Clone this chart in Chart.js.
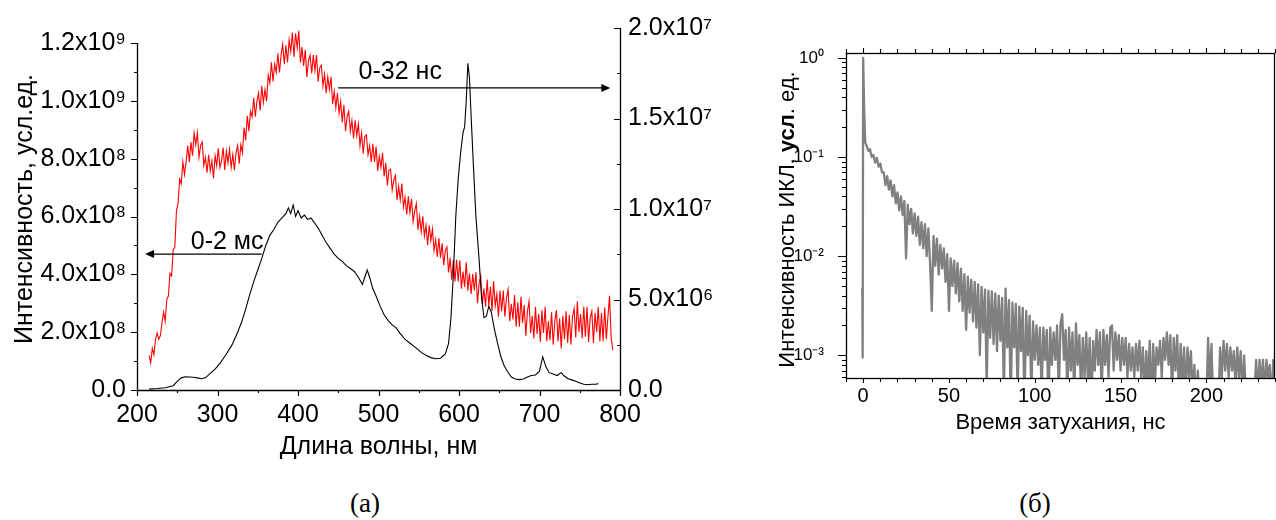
<!DOCTYPE html>
<html lang="ru">
<head>
<meta charset="UTF-8">
<title>Спектры и кинетика ИКЛ</title>
<script src="https://cdn.jsdelivr.net/npm/chart.js"></script>
<style>
    body { margin: 0; background: #fff; width: 1276px; height: 520px; position: relative; overflow: hidden; }
    canvas { position: absolute; top: 0; }
    #specChart { left: 0; }
    #decayChart { left: 760px; }
    .panel {
        position: absolute;
        font-family: "Liberation Serif", "Times New Roman", serif;
        font-size: 27px;
        color: #000;
        transform: translate(-50%, -50%);
    }
</style>
</head>
<body>

<canvas id="specChart" width="720" height="470"></canvas>
<canvas id="decayChart" width="516" height="470"></canvas>
<div class="panel" style="left:365px; top:503px;">(а)</div>
<div class="panel" style="left:1035px; top:503px;">(б)</div>

<script>
    // ---- (а) spectra ----
    // red: 0-32 нс, right axis, values x10^6, sampled every 2 nm from 215 nm
    const redWlStart = 215, redWlStep = 2;
    const red32ns = [
        1.9, 1.5, 2.3, 1.95, 2.8, 3.15, 2.8, 3.0, 3.7, 4.3,
        3.8, 5.0, 5.2, 6.45, 6.3, 7.75, 7.9, 9.9, 10.3, 11.65,
        11.4, 12.6, 11.9, 12.6, 13.5, 12.6, 13.7, 12.95, 14.2, 13.55,
        14.2, 12.85, 13.5, 13.7, 12.4, 12.85, 12.0, 13.0, 12.1, 12.65,
        11.7, 12.95, 12.4, 13.35, 12.3, 12.65, 13.4, 12.15, 13.2, 12.55,
        13.3, 12.3, 13.0, 12.15, 13.1, 13.5, 12.5, 13.55, 13.1, 14.5,
        13.8, 15.15, 14.3, 15.4, 15.1, 16.15, 15.1, 15.95, 16.4, 15.45,
        16.8, 15.9, 16.6, 15.95, 17.4, 16.95, 18.1, 17.05, 18.0, 17.55,
        18.6, 17.55, 18.5, 19.1, 18.0, 19.05, 18.1, 19.35, 18.7, 19.75,
        18.4, 19.7, 18.9, 19.85, 18.1, 18.95, 17.9, 18.8, 17.3, 18.2,
        18.5, 17.5, 18.5, 17.65, 18.5, 17.05, 17.8, 17.95, 16.8, 17.45,
        16.4, 17.3, 16.6, 17.3, 15.8, 16.5, 15.6, 16.4, 15.3, 15.95,
        14.8, 15.75, 14.3, 15.1, 15.4, 14.3, 14.9, 13.9, 14.9, 14.05,
        14.7, 13.5, 14.2, 13.05, 14.0, 14.1, 13.0, 13.5, 12.6, 13.6,
        12.6, 13.45, 12.1, 12.9, 12.3, 13.1, 11.8, 12.55, 11.3, 12.15,
        12.2, 11.05, 11.6, 11.85, 10.5, 11.25, 10.5, 11.4, 10.1, 10.65,
        9.7, 10.7, 9.8, 10.55, 9.3, 9.9, 10.3, 8.85, 9.6, 8.75,
        9.6, 8.5, 9.1, 8.0, 9.1, 8.25, 8.9, 7.7, 8.3, 7.35,
        8.4, 7.3, 8.1, 6.9, 7.7, 7.9, 6.5, 7.3, 6.1, 7.2,
        6.0, 7.2, 6.0, 7.15, 5.6, 6.55, 5.7, 7.05, 5.5, 6.45,
        5.3, 6.4, 5.5, 6.5, 4.8, 5.9, 6.3, 4.75, 5.6, 4.6,
        6.1, 4.65, 5.7, 4.35, 6.0, 4.65, 5.3, 4.05, 5.5, 4.35,
        5.5, 4.05, 5.1, 5.55, 3.8, 4.75, 3.9, 5.25, 3.5, 4.85,
        3.5, 5.15, 3.7, 4.7, 3.0, 4.35, 4.9, 3.15, 4.1, 2.85,
        4.6, 3.1, 4.2, 2.65, 4.4, 3.15, 4.6, 2.7, 3.8, 2.75,
        4.3, 2.5, 3.8, 4.4, 2.7, 3.95, 2.3, 4.1, 2.8, 4.35,
        2.6, 4.15, 2.5, 4.05, 4.5, 2.9, 4.9, 3.2, 4.2, 2.85,
        4.6, 2.95, 4.6, 2.65, 4.0, 4.35, 2.6, 4.25, 3.2, 4.6,
        2.7, 4.25, 2.7, 4.55, 2.8, 4.05, 5.2, 2.9, 2.2
    ];

    // black: 0-2 мс, left axis, values x10^8
    const blackWl = [
        215, 225, 235, 245, 250, 255, 260, 265, 270, 275, 280, 285, 290, 297, 303, 310, 318, 325, 330, 335,
        340, 345, 350, 355, 360, 365, 370, 375, 380, 385, 388, 391, 394, 397, 400, 404, 408, 412, 416, 420,
        425, 430, 435, 440, 445, 450, 455, 460, 465, 470, 475, 480, 483, 486, 489, 493, 497, 502, 507, 512,
        517, 522, 527, 533, 540, 547, 553, 559, 565, 571, 577, 583, 587, 590, 593, 596, 599, 602, 605, 607,
        609, 611, 613, 615, 618, 621, 625, 628, 631, 634, 637, 640, 644, 648, 652, 656, 660, 665, 670, 675,
        680, 685, 690, 695, 700, 704, 708, 712, 717, 722, 727, 730, 735, 740, 745, 750, 755, 760, 765, 770, 773
    ];
    const black2ms = [
        0.03, 0.05, 0.08, 0.15, 0.3, 0.42, 0.46, 0.45, 0.44, 0.42, 0.39, 0.42, 0.55, 0.72, 0.92, 1.2, 1.56, 2.0, 2.35, 2.8,
        3.3, 3.75, 4.15, 4.55, 5.0, 5.35, 5.55, 5.8, 5.95, 6.1, 6.3, 6.1, 6.4, 6.0, 6.2, 5.95, 6.05, 5.9, 5.95, 5.8,
        5.6, 5.35, 5.1, 4.9, 4.7, 4.55, 4.45, 4.3, 4.2, 4.1, 3.9, 3.65, 3.9, 4.15, 3.9, 3.5, 3.25, 2.9, 2.6, 2.4,
        2.25, 2.15, 1.95, 1.75, 1.6, 1.45, 1.3, 1.2, 1.12, 1.08, 1.1, 1.25, 1.6, 2.5, 4.0, 6.0, 7.3, 8.2, 8.9, 9.1,
        10.0, 11.3, 10.8, 9.5, 7.7, 6.0, 4.5, 3.2, 2.5, 2.55, 2.9, 2.7, 2.1, 1.6, 1.15, 0.85, 0.65, 0.45, 0.38, 0.36,
        0.38, 0.45, 0.5, 0.52, 0.65, 1.15, 0.8, 0.6, 0.55, 0.5, 0.6, 0.5, 0.4, 0.35, 0.3, 0.24, 0.2, 0.18, 0.2, 0.2, 0.22
    ];

    const specXTicks = [200, 300, 400, 500, 600, 700, 800];
    const specXMinor = [250, 350, 450, 550, 650, 750];
    const leftTicks = [0, 2e8, 4e8, 6e8, 8e8, 1e9, 1.2e9];
    const leftMinor = [1e8, 3e8, 5e8, 7e8, 9e8, 1.1e9];
    const rightTicks = [0, 5e6, 1e7, 1.5e7, 2e7];
    const rightMinor = [2.5e6, 7.5e6, 1.25e7, 1.75e7];

    const notes = [
        { text: '0-2 мс', axis: 'yL', from: [355, 4.7e8], to: [210, 4.7e8], at: [312, 5.12e8] },
        { text: '0-32 нс', axis: 'yR', from: [450, 1.669e7], to: [788, 1.669e7], at: [527, 1.757e7] }
    ];

    // ---- (б) decay ----
    const spikeT = [-0.5, -0.3, 0, 0.6, 1.2];
    const spikeI = [0.0048, 0.00095, 1.0, 0.3, 0.14];
    // tail sampled every 1 ns from 2 ns
    const tailTStart = 2, tailTStep = 1;
    const tailI = [
        0.13, 0.115, 0.12, 0.1, 0.105, 0.088, 0.098, 0.08, 0.086, 0.07,
        0.07, 0.052, 0.064, 0.047, 0.058, 0.04, 0.052, 0.034, 0.044, 0.029,
        0.04, 0.026, 0.036, 0.0095, 0.033, 0.021, 0.03, 0.017, 0.027, 0.016,
        0.025, 0.013, 0.022, 0.012, 0.021, 0.01, 0.019, 0.0085, 0.0028, 0.016,
        0.008, 0.015, 0.0065, 0.013, 0.0075, 0.012, 0.0055, 0.0105, 0.0028, 0.0095,
        0.005, 0.009, 0.0042, 0.0085, 0.0035, 0.0075, 0.0028, 0.0066, 0.0018, 0.0062,
        0.0027, 0.0058, 0.0022, 0.0055, 0.0019, 0.0052, 0.001, 0.0049, 0.0017, 0.0046,
        0.0005, 0.0045, 0.0015, 0.0044, 0.0013, 0.0042, 0.0011, 0.004, 0.0014, 0.0038,
        0.0004, 0.0047, 0.0012, 0.0036, 0.0003, 0.0034, 0.0012, 0.0033, 0.0004, 0.0031,
        0.0011, 0.003, 0.0003, 0.0028, 0.001, 0.0025, 0.0004, 0.0022, 0.0009, 0.002,
        0.0008, 0.0019, 0.0004, 0.0019, 0.0009, 0.0018, 0.0003, 0.0019, 0.0008, 0.0017,
        0.0009, 0.002, 0.0004, 0.0021, 0.0026, 0.0009, 0.0018, 0.0004, 0.0019, 0.0007,
        0.0017, 0.0004, 0.0021, 0.0008, 0.0016, 0.0004, 0.0015, 0.0006, 0.0017, 0.0005,
        0.0015, 0.0003, 0.0014, 0.0007, 0.0018, 0.0008, 0.0017, 0.0004, 0.0018, 0.0008,
        0.0016, 0.0006, 0.0019, 0.002, 0.0007, 0.0017, 0.0009, 0.0016, 0.0007, 0.0015,
        0.0008, 0.0015, 0.0006, 0.0013, 0.0007, 0.0012, 0.0006, 0.0013, 0.0007, 0.0014,
        0.0006, 0.0012, 0.0004, 0.0011, 0.0005, 0.0014, 0.0003, 0.0013, 0.0005, 0.0012,
        0.0008, 0.0014, 0.0006, 0.0015, 0.0009, 0.0017, 0.0008, 0.0016, 0.0004, 0.0015,
        0.0007, 0.0016, 0.0004, 0.0013, 0.0005, 0.0012, 0.0004, 0.0012, 0.0006, 0.0011,
        0.0004, 0.0008, 0.0003, 0.0007, 0.0004, 0.0003, 0.0003, 0.0004, 0.0003, 0.0015,
        0.0005, 0.0013, 0.0003, 0.0004, 0.0003, 0.0003, 0.0012, 0.0006, 0.0014, 0.0007,
        0.0013, 0.0006, 0.0012, 0.0007, 0.0011, 0.0005, 0.0012, 0.0006, 0.0011, 0.0004,
        0.001, 0.0004, 0.0003, 0.0003, 0.0003, 0.0003, 0.0004, 0.0009, 0.0004, 0.0009,
        0.0005, 0.0009, 0.0004, 0.0009, 0.0006, 0.0008, 0.0003, 0.0009, 0.0005
    ];
    const decayXTicks = [0, 50, 100, 150, 200];
    const decayXMinor = [-10, 10, 20, 30, 40, 60, 70, 80, 90, 110, 120, 130, 140, 160, 170, 180, 190, 210, 220, 230, 240];
    const decayYTicks = [1e-3, 1e-2, 1e-1, 1];

    const SANS = "'Liberation Sans', Arial, sans-serif";
    const SUP = { '0': '⁰', '1': '¹', '2': '²', '3': '³', '4': '⁴', '5': '⁵', '6': '⁶', '7': '⁷', '8': '⁸', '9': '⁹', '-': '⁻' };
    const sup = s => String(s).split('').map(c => SUP[c]).join('');

    function sci(v) {
        if (v === 0) return '0.0';
        const e = Math.floor(Math.log10(v) + 1e-9);
        return (v / Math.pow(10, e)).toFixed(1) + 'x10' + sup(e);
    }

    function setTicks(list) {
        return scale => { scale.ticks = list.map(v => ({ value: v })); };
    }

    // short tick marks along an axis; len < 0 draws left / up
    function marks(ctx, values, toPx, fixed, len, vertical) {
        ctx.beginPath();
        values.forEach(v => {
            const p = Math.round(toPx(v)) + 0.5;
            if (vertical) { ctx.moveTo(p, fixed); ctx.lineTo(p, fixed + len); }
            else { ctx.moveTo(fixed, p); ctx.lineTo(fixed + len, p); }
        });
        ctx.stroke();
    }

    const specFrame = {
        id: 'specFrame',
        afterDatasetsDraw(chart) {
            const { ctx, scales } = chart;
            ctx.save();
            ctx.strokeStyle = '#000';
            ctx.fillStyle = '#000';
            ctx.lineWidth = 1.2;
            notes.forEach(n => {
                const ys = scales[n.axis];
                const x1 = scales.x.getPixelForValue(n.from[0]), y1 = ys.getPixelForValue(n.from[1]);
                const x2 = scales.x.getPixelForValue(n.to[0]), y2 = ys.getPixelForValue(n.to[1]);
                const dir = Math.sign(x2 - x1);
                ctx.beginPath();
                ctx.moveTo(x1, y1);
                ctx.lineTo(x2 - dir * 8, y2);
                ctx.stroke();
                ctx.beginPath();
                ctx.moveTo(x2, y2);
                ctx.lineTo(x2 - dir * 9, y2 - 4);
                ctx.lineTo(x2 - dir * 9, y2 + 4);
                ctx.closePath();
                ctx.fill();
                ctx.font = '25px ' + SANS;
                ctx.textAlign = 'center';
                ctx.textBaseline = 'middle';
                ctx.fillText(n.text, scales.x.getPixelForValue(n.at[0]), ys.getPixelForValue(n.at[1]));
            });
            ctx.restore();
        },
        afterDraw(chart) {
            const { ctx, chartArea: a, scales: { x, yL, yR } } = chart;
            ctx.save();
            ctx.strokeStyle = '#000';
            ctx.lineWidth = 1.3;
            ctx.beginPath();
            ctx.moveTo(a.left + 0.5, yL.getPixelForValue(leftTicks[leftTicks.length - 1]));
            ctx.lineTo(a.left + 0.5, a.bottom + 0.5);
            ctx.lineTo(a.right + 0.5, a.bottom + 0.5);
            ctx.lineTo(a.right + 0.5, a.top);
            ctx.stroke();
            ctx.lineWidth = 1.2;
            const px = v => x.getPixelForValue(v), pl = v => yL.getPixelForValue(v), pr = v => yR.getPixelForValue(v);
            marks(ctx, specXTicks, px, a.bottom, 6, true);
            marks(ctx, specXMinor, px, a.bottom, 3, true);
            marks(ctx, leftTicks, pl, a.left, -6, false);
            marks(ctx, leftMinor, pl, a.left, -3, false);
            marks(ctx, rightTicks, pr, a.right, -6, false);
            marks(ctx, rightMinor, pr, a.right, -3, false);
            ctx.restore();
        }
    };

    const tickFont = { family: SANS, size: 25 };

    new Chart(document.getElementById('specChart'), {
        type: 'line',
        data: {
            datasets: [
                {
                    label: '0-2 мс',
                    data: blackWl.map((w, i) => ({ x: w, y: black2ms[i] * 1e8 })),
                    yAxisID: 'yL',
                    borderColor: '#000000',
                    borderWidth: 1.1,
                    pointRadius: 0
                },
                {
                    label: '0-32 нс',
                    data: red32ns.map((v, i) => ({ x: redWlStart + i * redWlStep, y: v * 1e6 })),
                    yAxisID: 'yR',
                    borderColor: '#ff0000',
                    borderWidth: 1.1,
                    pointRadius: 0
                }
            ]
        },
        options: {
            responsive: false,
            animation: false,
            events: [],
            layout: { padding: { top: 28, left: 0, right: 0, bottom: 0 } },
            plugins: { legend: { display: false }, tooltip: { enabled: false } },
            scales: {
                x: {
                    type: 'linear', min: 200, max: 800,
                    afterBuildTicks: setTicks(specXTicks),
                    afterFit: s => { s.height = 80; },
                    grid: { display: false, drawTicks: false },
                    border: { display: false },
                    ticks: { padding: 10, maxRotation: 0, autoSkip: false, color: '#000', font: tickFont },
                    title: { display: true, text: 'Длина волны, нм', color: '#000', font: tickFont, padding: { top: 0, bottom: 8 } }
                },
                yL: {
                    type: 'linear', position: 'left', min: 0, max: 1.252e9,
                    afterBuildTicks: setTicks(leftTicks),
                    afterFit: s => { s.width = 137; },
                    grid: { display: false, drawTicks: false },
                    border: { display: false },
                    ticks: { padding: 11, color: '#000', font: tickFont, callback: v => sci(v) },
                    title: { display: true, text: 'Интенсивность, усл.ед.', color: '#000', font: tickFont, padding: { top: 10, bottom: 0 } }
                },
                yR: {
                    type: 'linear', position: 'right', min: 0, max: 2e7,
                    afterBuildTicks: setTicks(rightTicks),
                    afterFit: s => { s.width = 100; },
                    grid: { display: false, drawTicks: false },
                    border: { display: false },
                    ticks: { padding: 8, color: '#000', font: tickFont, callback: v => sci(v) }
                }
            }
        },
        plugins: [specFrame]
    });

    const decayFrame = {
        id: 'decayFrame',
        afterDraw(chart) {
            const { ctx, chartArea: a, scales: { x, y } } = chart;
            ctx.save();
            ctx.strokeStyle = '#000';
            ctx.lineWidth = 1.3;
            ctx.strokeRect(a.left + 0.5, a.top + 0.5, a.right - a.left - 1, a.bottom - a.top);
            ctx.lineWidth = 1.1;
            const px = v => x.getPixelForValue(v), py = v => y.getPixelForValue(v);
            marks(ctx, decayXTicks, px, a.bottom, 5, true);
            marks(ctx, decayXMinor, px, a.bottom, 4, true);
            marks(ctx, decayXTicks, px, a.top, -5, true);
            marks(ctx, decayXMinor, px, a.top, -4, true);
            const logMinor = [];
            [1e-4, 1e-3, 1e-2, 1e-1, 1].forEach(d => {
                for (let k = 2; k <= 9; k++) {
                    const v = k * d;
                    if (v > y.min && v < y.max) logMinor.push(v);
                }
            });
            marks(ctx, decayYTicks, py, a.left, -8, false);
            marks(ctx, logMinor, py, a.left, -4, false);

            // y title with bold «усл»
            const parts = [
                { t: 'Интенсивность ИКЛ, ', f: '22px ' + SANS },
                { t: 'усл', f: 'bold 22px ' + SANS },
                { t: '. ед.', f: '22px ' + SANS }
            ];
            let total = 0;
            parts.forEach(p => { ctx.font = p.f; p.w = ctx.measureText(p.t).width; total += p.w; });
            ctx.translate(28, (a.top + a.bottom) / 2 + 4);
            ctx.rotate(-Math.PI / 2);
            ctx.fillStyle = '#000';
            ctx.textBaseline = 'middle';
            ctx.textAlign = 'left';
            let cx = -total / 2;
            parts.forEach(p => { ctx.font = p.f; ctx.fillText(p.t, cx, 0); cx += p.w; });
            ctx.restore();
        }
    };

    const decayPts = spikeT.map((t, i) => ({ x: t, y: spikeI[i] }))
        .concat(tailI.map((v, i) => ({ x: tailTStart + i * tailTStep, y: v })));

    new Chart(document.getElementById('decayChart'), {
        type: 'line',
        data: {
            datasets: [{
                label: 'ИКЛ',
                data: decayPts,
                borderColor: '#808080',
                borderWidth: 2.3,
                borderJoinStyle: 'round',
                pointRadius: 0
            }]
        },
        options: {
            responsive: false,
            animation: false,
            events: [],
            layout: { padding: { top: 53, left: 0, right: 1, bottom: 0 } },
            plugins: { legend: { display: false }, tooltip: { enabled: false } },
            scales: {
                x: {
                    type: 'linear', min: -10, max: 240,
                    afterBuildTicks: setTicks(decayXTicks),
                    afterFit: s => { s.height = 92; },
                    grid: { display: false, drawTicks: false },
                    border: { display: false },
                    ticks: { padding: 6, maxRotation: 0, autoSkip: false, color: '#000', font: { family: SANS, size: 20 } },
                    title: { display: true, text: 'Время затухания, нс', color: '#000', font: { family: SANS, size: 22 }, padding: { top: 0, bottom: 34 } }
                },
                y: {
                    type: 'logarithmic', min: 5.9e-4, max: 1.12,
                    afterBuildTicks: setTicks(decayYTicks),
                    afterFit: s => { s.width = 86; },
                    grid: { display: false, drawTicks: false },
                    border: { display: false },
                    ticks: { padding: 22, color: '#000', font: { family: SANS, size: 17 }, callback: v => '10' + sup(Math.round(Math.log10(v))) }
                }
            }
        },
        plugins: [decayFrame]
    });
</script>

</body>
</html>
